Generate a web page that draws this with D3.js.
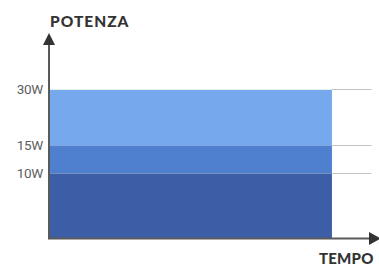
<!DOCTYPE html>
<html>
<head>
<meta charset="utf-8">
<script src="https://cdn.jsdelivr.net/npm/d3@7"></script>
<style>
  body { margin: 0; background: #fff; }
  svg { display: block; }
</style>
</head>
<body>
<svg></svg>
<script>
// livelli di potenza (W) e relative etichette
var livelli = [10, 15, 30];
var tickLabels = ["10W", "15W", "30W"];
var fasce = [[0, 10], [10, 15], [15, 30]];
var durata = 86; // fine della barra sull'asse del tempo (0-100)

var colori = ["#3c5ea6", "#4f7fcf", "#76a8ee"];

var W = 379, H = 267;
var svg = d3.select("svg").attr("width", W).attr("height", H);

// asse y non lineare, come nel disegno originale
var y = d3.scaleLinear()
    .domain([0, 10, 15, 30])
    .range([238, 173, 145, 89]);
var x = d3.scaleLinear()
    .domain([0, 100])
    .range([49, 378]);

// griglia
svg.selectAll(".grid")
    .data(livelli)
    .enter().append("line")
    .attr("class", "grid")
    .attr("x1", x(0)).attr("x2", x(98))
    .attr("y1", function(d) { return y(d) + 0.5; })
    .attr("y2", function(d) { return y(d) + 0.5; })
    .attr("stroke", "#c4c4c4")
    .attr("stroke-width", 1);

// fasce impilate
svg.selectAll(".fascia")
    .data(fasce)
    .enter().append("rect")
    .attr("class", "fascia")
    .attr("x", x(0))
    .attr("y", function(d) { return y(d[1]); })
    .attr("width", x(durata) - x(0))
    .attr("height", function(d) { return y(d[0]) - y(d[1]); })
    .attr("fill", function(d, i) { return colori[i]; });

// bordo chiaro sopra ogni fascia
svg.selectAll(".bordo")
    .data(livelli)
    .enter().append("line")
    .attr("x1", x(0)).attr("x2", x(durata))
    .attr("y1", function(d) { return y(d) + 0.5; })
    .attr("y2", function(d) { return y(d) + 0.5; })
    .attr("stroke", function(d, i) { return i == 2 ? "#e4f0ea" : "rgba(255,255,255,0.3)"; })
    .attr("stroke-width", 1);

// etichette asse y
svg.selectAll(".tick")
    .data(livelli)
    .enter().append("text")
    .attr("x", 43)
    .attr("y", function(d) { return y(d); })
    .attr("dy", "0.35em")
    .attr("text-anchor", "end")
    .style("font-family", "Roboto, 'Liberation Sans', sans-serif")
    .style("font-size", "13.5px")
    .style("letter-spacing", "-0.3px")
    .attr("fill", "#5e5e5e")
    .text(function(d, i) { return tickLabels[i]; });

// assi con frecce
svg.append("line")
    .attr("x1", x(0)).attr("x2", x(0))
    .attr("y1", 239).attr("y2", 44)
    .attr("stroke", "#5a5a5a").attr("stroke-width", 2);
svg.append("path")
    .attr("d", "M" + (x(0) - 6) + ",45 L" + x(0) + ",33 L" + (x(0) + 6) + ",45 Z")
    .attr("fill", "#333");

svg.append("line")
    .attr("x1", x(0) - 1).attr("x2", 370)
    .attr("y1", 238.5).attr("y2", 238.5)
    .attr("stroke", "#5a5a5a").attr("stroke-width", 2);
svg.append("path")
    .attr("d", "M369,232 L381,238.5 L369,245 Z")
    .attr("fill", "#333");

// titoli assi
svg.append("text")
    .attr("x", 50).attr("y", 27)
    .style("font-family", "Lato, 'DejaVu Sans', sans-serif")
    .style("font-weight", "900")
    .style("font-size", "15.5px")
    .style("letter-spacing", "1px")
    .attr("fill", "#333")
    .text("POTENZA");

svg.append("text")
    .attr("x", 319).attr("y", 264)
    .style("font-family", "Lato, 'DejaVu Sans', sans-serif")
    .style("font-weight", "900")
    .style("font-size", "15px")
    .style("letter-spacing", "0.2px")
    .attr("fill", "#333")
    .text("TEMPO");
</script>
</body>
</html>
